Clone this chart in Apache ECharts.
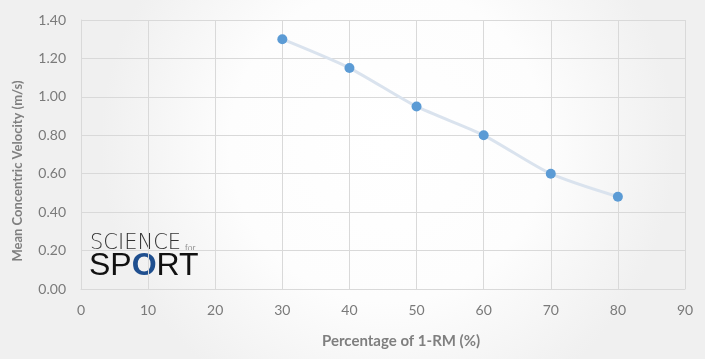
<!DOCTYPE html>
<html><head><meta charset="utf-8">
<script src="https://cdn.jsdelivr.net/npm/echarts@6/dist/echarts.min.js"></script>
<style>html,body{margin:0;padding:0;}#c{width:705px;height:359px;}</style>
</head><body><div id="c"></div>
<script>
const percentages = [30, 40, 50, 60, 70, 80];
const velocities = [1.30, 1.15, 0.95, 0.80, 0.60, 0.48];
const xTitle = 'Percentage of 1-RM (%)';
const yTitle = 'Mean Concentric Velocity (m/s)';

const chart = echarts.init(document.getElementById('c'));
const labelFont = {color: '#7a7a7a', fontFamily: 'Lato', fontSize: 14};
chart.setOption({
  backgroundColor: {type: 'radial', x: 0.55, y: 0.4, r: 0.8,
    colorStops: [{offset: 0, color: '#ffffff'}, {offset: 0.55, color: '#fdfdfd'}, {offset: 1, color: '#f0f0f0'}]},
  animation: false,
  grid: {left: 81, right: 20, top: 20, bottom: 70},
  xAxis: {
    type: 'value', min: 0, max: 90, interval: 10,
    axisLine: {show: true, lineStyle: {color: '#d9d9d9'}},
    axisTick: {show: false},
    splitLine: {show: true, lineStyle: {color: '#d9d9d9'}},
    axisLabel: Object.assign({margin: 14}, labelFont)
  },
  yAxis: {
    type: 'value', min: 0, max: 1.4, interval: 0.2,
    axisLine: {show: true, lineStyle: {color: '#d9d9d9'}},
    axisTick: {show: false},
    splitLine: {show: true, lineStyle: {color: '#d9d9d9'}},
    axisLabel: Object.assign({margin: 15, formatter: v => v.toFixed(2)}, labelFont)
  },
  series: [{
    type: 'line',
    data: percentages.map((p, i) => [p, velocities[i]]),
    smooth: 0.25,
    symbol: 'circle', symbolSize: 10,
    lineStyle: {color: '#dae3ee', width: 3},
    itemStyle: {color: '#5b9bd5'}
  }],
  graphic: [
    {type: 'text', x: 18, y: 171, rotation: Math.PI / 2,
      style: {text: yTitle, fill: '#7f7f7f', font: 'bold 13px Lato', align: 'center', verticalAlign: 'middle'}},
    {type: 'text', left: 322, top: 334, style: {text: xTitle, fill: '#7f7f7f', font: 'bold 15px Lato'}},
    {type: 'text', left: 90, top: 233, style: {text: 'SCIENCE', fill: '#333333', font: '200 21px "DejaVu Sans"'}},
    {type: 'text', left: 185, top: 244, style: {text: 'for', fill: '#999999', font: '9px "Liberation Sans"'}},
    {type: 'text', left: 89, top: 250, style: {
      text: '{a|SP}{o|O}{a|RT}',
      rich: {a: {fill: '#111111', font: '32px "Liberation Sans"'}, o: {fill: '#1f4f8f', font: 'bold 32px "Liberation Sans"'}}
    }}
  ]
});
</script></body></html>
